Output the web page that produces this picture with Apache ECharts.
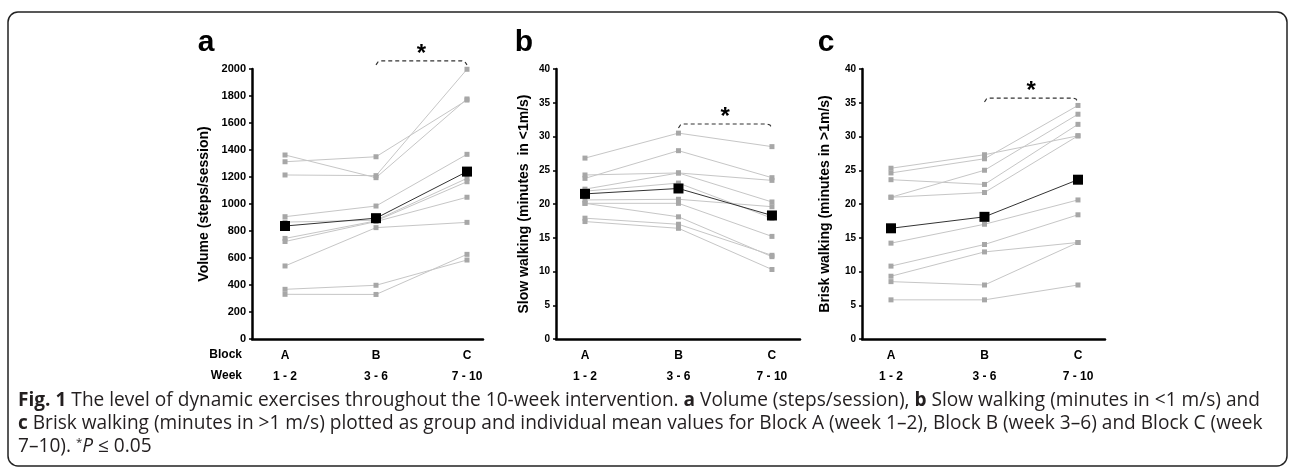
<!DOCTYPE html>
<html><head><meta charset="utf-8">
<script src="https://cdn.jsdelivr.net/npm/echarts@6/dist/echarts.min.js"></script>
<style>html,body{margin:0;padding:0;background:#fff}#c{width:1295px;height:470px}</style>
</head><body><div id="c"></div>
<script>
// ---------- data ----------
const blocks = ['A', 'B', 'C'];
const weeks = ['1 - 2', '3 - 6', '7 - 10'];
const panelLetters = ['a', 'b', 'c'];
const yTitles = ['Volume (steps/session)', 'Slow walking (minutes  in <1m/s)', 'Brisk walking (minutes in >1m/s)'];

// individual participants: [Block A, Block B, Block C]
const volumeIndividuals = [
  [1363, 1195, 1778], [1313, 1350, 1770], [1215, 1210, 1998], [906, 985, 1368], [866, 880, 1190],
  [745, 875, 1165], [722, 870, 1050], [541, 825, 864], [368, 398, 585], [331, 330, 627]
];
const volumeMean = [837, 895, 1240];

const slowIndividuals = [
  [26.8, 30.5, 28.5], [23.8, 27.9, 23.9], [24.3, 24.6, 23.5], [22.2, 24.6, 20.3], [21.9, 23.1, 17.9],
  [20.6, 20.7, 19.6], [20.1, 20.1, 15.2], [20.1, 18.1, 12.2], [17.9, 17.0, 12.4], [17.4, 16.4, 10.3]
];
const slowMean = [21.5, 22.3, 18.3];

const briskIndividuals = [
  [25.3, 27.3, 30.1], [24.6, 26.7, 34.6], [23.6, 22.9, 31.8], [21.0, 25.0, 33.3], [21.0, 21.7, 30.1],
  [14.2, 17.0, 20.6], [10.8, 14.0, 18.4], [9.3, 12.9, 14.3], [8.5, 8.0, 14.3], [5.8, 5.8, 8.0]
];
const briskMean = [16.4, 18.1, 23.6];

const yMax = [2000, 40, 40];
const yInterval = [200, 5, 5];
// significance bracket between Block B and Block C, height in data units
const sigFrom = [1, 1, 1], sigTo = [2, 2, 2];
const sigLevel = [2060, 31.85, 35.7];

const captionLines = [
  '{b|Fig. 1} The level of dynamic exercises throughout the 10-week intervention. {b|a} Volume (steps/session), {b|b} Slow walking (minutes in <1 m/s) and',
  '{b|c} Brisk walking (minutes in >1 m/s) plotted as group and individual mean values for Block A (week 1–2), Block B (week 3–6) and Block C (week',
  '7–10). {s|*}{i|P} ≤ 0.05'
];

// ---------- chart ----------
const individuals = [volumeIndividuals, slowIndividuals, briskIndividuals];
const means = [volumeMean, slowMean, briskMean];
const AX = '"Liberation Sans", Arial, sans-serif';
const grids = [
  {left: 252, top: 69, width: 231, height: 270},
  {left: 556, top: 69, width: 244, height: 270},
  {left: 862, top: 69, width: 243, height: 270}
];
const xRange = [[-0.363, 2.176], [-0.31, 2.30], [-0.31, 2.289]];
const nameGaps = [40.5, 25, 29.5];

const chart = echarts.init(document.getElementById('c'), null, {renderer: 'canvas'});

const xAxes = [], yAxes = [], series = [];
for (let p = 0; p < 3; p++) {
  xAxes.push({
    type: 'value', gridIndex: p, min: xRange[p][0], max: xRange[p][1],
    axisLine: {show: true, onZero: false, lineStyle: {color: '#000', width: 2.5}},
    axisTick: {show: false}, splitLine: {show: false},
    axisLabel: {
      customValues: [0, 1, 2], margin: 6,
      formatter: v => '{b|' + blocks[Math.round(v)] + '}\n{w|' + weeks[Math.round(v)] + '}',
      rich: {
        b: {fontFamily: AX, fontWeight: 'bold', fontSize: 12, lineHeight: 21, color: '#000'},
        w: {fontFamily: AX, fontWeight: 'bold', fontSize: 12, lineHeight: 21, color: '#000'}
      }
    }
  });
  yAxes.push({
    type: 'value', gridIndex: p, min: 0, max: yMax[p], interval: yInterval[p],
    axisLine: {show: true, onZero: false, lineStyle: {color: '#000', width: 2.5}},
    axisTick: {show: true, length: 3, lineStyle: {color: '#000', width: 1.5}},
    splitLine: {show: false},
    axisLabel: {fontFamily: AX, fontWeight: 'bold', fontSize: p === 0 ? 11 : 10, color: '#000', margin: 6,
      formatter: v => String(v)},
    name: yTitles[p], nameLocation: 'middle', nameRotate: 90, nameGap: nameGaps[p],
    nameTextStyle: {fontFamily: AX, fontWeight: 'bold', fontSize: 14, color: '#000'}
  });
  individuals[p].forEach(row => {
    series.push({
      type: 'line', xAxisIndex: p, yAxisIndex: p, z: 2,
      data: row.map((v, i) => [i, v]),
      symbol: 'rect', symbolSize: 5, showSymbol: true,
      lineStyle: {color: '#c6c6c6', width: 1},
      itemStyle: {color: '#a7a7a7'},
      silent: true
    });
  });
  series.push({
    type: 'line', xAxisIndex: p, yAxisIndex: p, z: 5,
    data: means[p].map((v, i) => [i, v]),
    symbol: 'rect', symbolSize: 10,
    lineStyle: {color: '#333', width: 1},
    itemStyle: {color: '#000'},
    silent: true
  });
}

chart.setOption({
  animation: false,
  backgroundColor: '#fff',
  grid: grids,
  xAxis: xAxes,
  yAxis: yAxes,
  series: series
});

// ---------- annotations ----------
const CAP = '"Open Sans", sans-serif';
const ctx = document.createElement('canvas').getContext('2d');
ctx.font = '100px "Open Sans"';
const plain1 = captionLines[0].replace(/\{[a-z]\|([^}]*)\}/g, '$1');
const capSize = Math.round(100 * 1239 / ctx.measureText(plain1).width * 10) / 10;
const capRich = {
  b: {fontFamily: CAP, fontWeight: 'bold', fontSize: capSize, color: '#231f20'},
  i: {fontFamily: CAP, fontStyle: 'italic', fontSize: capSize, color: '#231f20'},
  s: {fontFamily: CAP, fontSize: capSize * 0.6, color: '#231f20', verticalAlign: 'top', padding: [0, 0, 8, 0]}
};

const graphics = [];
graphics.push({
  type: 'rect', shape: {x: 8, y: 12, width: 1279, height: 454, r: 10},
  style: {fill: 'none', stroke: '#222', lineWidth: 1.5}, z: 0
});
for (let p = 0; p < 3; p++) {
  graphics.push({
    type: 'text', x: [206, 524, 826][p], y: 42.6,
    style: {text: panelLetters[p], font: 'bold 30px ' + AX, fill: '#000', textAlign: 'center', textVerticalAlign: 'middle'}
  });
  const pB = chart.convertToPixel({gridIndex: p}, [sigFrom[p], sigLevel[p]]);
  const pC = chart.convertToPixel({gridIndex: p}, [sigTo[p], sigLevel[p]]);
  const y = pB[1];
  graphics.push({
    type: 'polyline',
    shape: {points: [[pB[0], y + 4], [pB[0] + 2, y + 1], [pB[0] + 5, y], [pC[0] - 5, y], [pC[0] - 2, y + 1], [pC[0], y + 4]]},
    style: {stroke: '#333', lineWidth: 1.2, lineDash: [4, 3], fill: null}
  });
  graphics.push({
    type: 'text', x: (pB[0] + pC[0]) / 2, y: y - 6.6,
    style: {text: '*', font: 'bold 24px ' + AX, fill: '#000', textAlign: 'center', textVerticalAlign: 'middle'}
  });
}
graphics.push({
  type: 'text', x: 242, y: 355,
  style: {text: 'Block', font: 'bold 12px ' + AX, fill: '#000', textAlign: 'right', textVerticalAlign: 'middle'}
});
graphics.push({
  type: 'text', x: 242, y: 376,
  style: {text: 'Week', font: 'bold 12px ' + AX, fill: '#000', textAlign: 'right', textVerticalAlign: 'middle'}
});
captionLines.forEach((t, k) => {
  graphics.push({
    type: 'text', x: 18, y: 401 + k * 23,
    style: {text: t, rich: capRich, fontFamily: CAP, fontSize: capSize, fill: '#231f20', textAlign: 'left', textVerticalAlign: 'middle'}
  });
});

chart.setOption({graphic: graphics});
</script>
</body></html>
